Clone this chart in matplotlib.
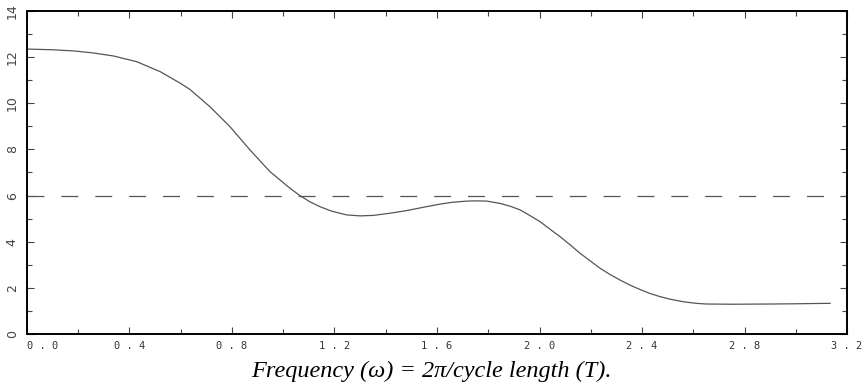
import numpy as np
import matplotlib
matplotlib.use("Agg")
import matplotlib.pyplot as plt
from matplotlib.ticker import MultipleLocator, FixedLocator, FixedFormatter

# curve values
freq = [0.0, 0.10, 0.182, 0.26, 0.338, 0.429, 0.52, 0.598, 0.636, 0.714,
        0.792, 0.870, 0.948, 1.026, 1.065, 1.104, 1.143, 1.19, 1.248, 1.30,
        1.351, 1.42, 1.482, 1.55, 1.612, 1.66, 1.716, 1.75, 1.794, 1.846,
        1.885, 1.924, 1.96, 2.002, 2.04, 2.080, 2.12, 2.158, 2.20, 2.236,
        2.275, 2.314, 2.353, 2.392, 2.43, 2.47, 2.509, 2.56, 2.61, 2.65,
        2.75, 2.91, 3.0, 3.134]
power = [12.35, 12.32, 12.27, 12.18, 12.05, 11.80, 11.37, 10.87, 10.60, 9.85,
         8.99, 7.98, 7.04, 6.32, 6.00, 5.73, 5.52, 5.32, 5.16, 5.12,
         5.14, 5.24, 5.35, 5.50, 5.63, 5.71, 5.76, 5.77, 5.76, 5.66,
         5.54, 5.38, 5.15, 4.87, 4.55, 4.22, 3.86, 3.50, 3.15, 2.85,
         2.58, 2.34, 2.12, 1.93, 1.76, 1.62, 1.51, 1.40, 1.33, 1.30,
         1.29, 1.30, 1.31, 1.33]
ref_level = 6.0

x_ticks = [0.0, 0.4, 0.8, 1.2, 1.6, 2.0, 2.4, 2.8, 3.2]
x_labels = ["0 . 0", "0 . 4", "0 . 8", "1 . 2", "1 . 6", "2 . 0", "2 . 4", "2 . 8", "3 . 2"]
y_ticks = [0, 2, 4, 6, 8, 10, 12, 14]

plt.rcParams["lines.scale_dashes"] = False

fig = plt.figure(figsize=(8.67, 3.9), dpi=100)
ax = fig.add_axes([0.0311, 0.1436, 0.9459, 0.8282])

ax.plot(freq, power, color="#555555", lw=0.9)
ax.axhline(ref_level, color="#555555", lw=0.9, dashes=(12.2, 12.2))

ax.set_xlim(0, 3.2)
ax.set_ylim(0, 14)

ax.xaxis.set_major_locator(FixedLocator(x_ticks))
ax.xaxis.set_major_formatter(FixedFormatter(x_labels))
ax.xaxis.set_minor_locator(MultipleLocator(0.2))
ax.yaxis.set_major_locator(FixedLocator(y_ticks))
ax.yaxis.set_minor_locator(MultipleLocator(1))

ax.tick_params(which="both", direction="in", top=True, right=True,
               color="#444444", width=0.8)
ax.tick_params(which="major", length=5)
ax.tick_params(which="minor", length=3.5)
ax.tick_params(axis="x", which="major", pad=5, labelsize=7.5, labelcolor="#333333")
ax.tick_params(axis="y", which="major", pad=6, labelsize=9, labelcolor="#444444")

xlabs = ax.get_xticklabels()
for lab in xlabs:
    lab.set_family("DejaVu Sans Mono")
xlabs[0].set_ha("left")  # first label sits right of the axis corner
for lab in ax.get_yticklabels():
    lab.set_rotation(90)
    lab.set_va("center")
    lab.set_family("DejaVu Sans")

for s in ax.spines.values():
    s.set_linewidth(1.4)
    s.set_color("black")

fig.text(0.497, 0.048, "Frequency (ω) = 2π/cycle length (T).",
         ha="center", va="center", fontsize=17.5,
         family="Liberation Serif", style="italic")

fig.savefig("out.png", dpi=100)
